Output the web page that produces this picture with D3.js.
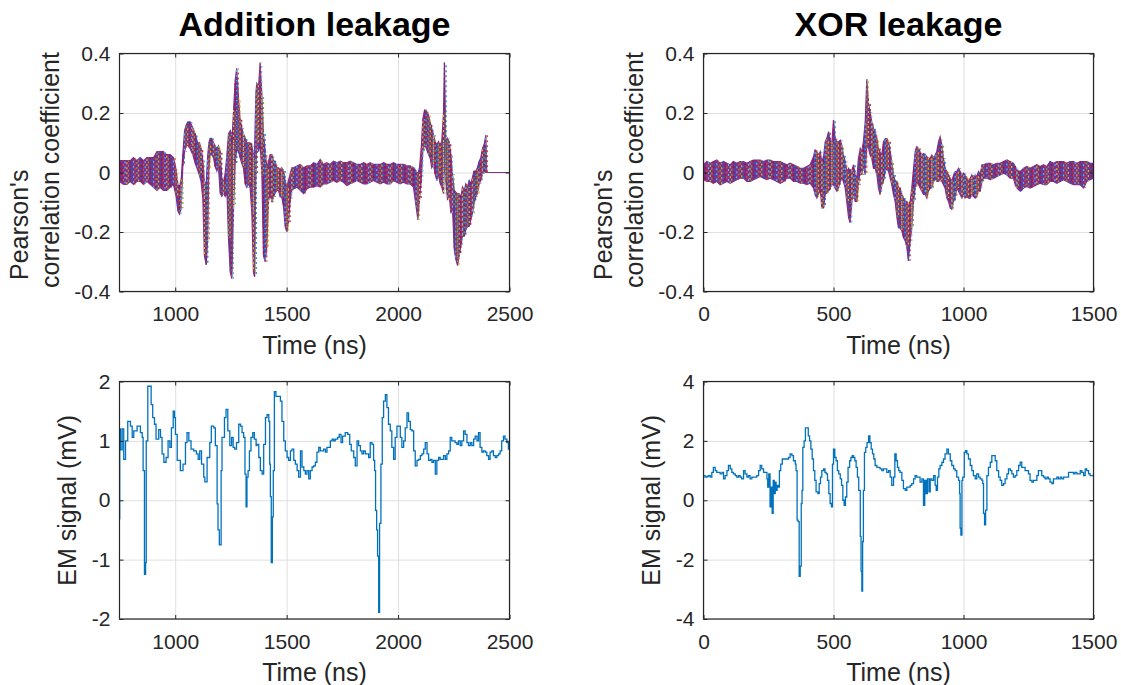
<!DOCTYPE html>
<html>
<head>
<meta charset="utf-8">
<script src="https://cdn.jsdelivr.net/npm/d3@7"></script>
<style>
  body { margin: 0; background: #fff; }
  svg { display: block; }
  text { font-family: "Liberation Sans", Arial, Helvetica, sans-serif; fill: #262626; }
</style>
</head>
<body>
<svg id="fig" width="1121" height="685"></svg>
<script>
// correlation traces: [time ns, upper envelope, lower envelope] of all key guesses
const corrAdd = [
  [750,0.04,-0.03],[768,0.04,-0.04],[783,0.04,-0.04],[798,0.04,-0.03],[813,0.05,-0.04],[828,0.04,-0.03],
  [843,0.05,-0.03],[858,0.04,-0.04],[873,0.05,-0.03],[888,0.05,-0.04],[903,0.05,-0.05],[918,0.07,-0.06],
  [932,0.07,-0.05],[947,0.07,-0.06],[962,0.06,-0.06],[977,0.06,-0.05],[992,0.05,-0.04],[1004,0.01,-0.08],
  [1012,-0.04,-0.13],[1019,-0.05,-0.14],[1027,-0.02,-0.12],[1034,0.06,0.02],[1042,0.14,0.07],[1049,0.16,0.09],
  [1057,0.17,0.09],[1067,0.17,0.08],[1079,0.15,0.06],[1090,0.13,0.03],[1100,0.10,0.01],[1109,0.10,-0.01],
  [1116,0.08,-0.03],[1124,0.04,-0.09],[1131,-0.03,-0.28],[1139,-0.04,-0.31],[1145,0.05,-0.23],[1151,0.10,0.01],
  [1157,0.115,0.06],[1164,0.115,0.06],[1172,0.10,0.05],[1179,0.09,0.02],[1187,0.08,0.005],[1194,0.09,0.02],
  [1202,0.07,-0.07],[1209,-0.02,-0.08],[1217,-0.03,-0.07],[1224,-0.005,-0.08],[1232,0.06,-0.06],[1239,0.13,-0.22],
  [1247,0.14,-0.335],[1254,0.10,-0.357],[1262,0.21,-0.115],[1269,0.31,0.03],[1276,0.35,0.08],[1284,0.25,0.07],
  [1291,0.18,0.05],[1299,0.15,0.03],[1306,0.13,0.016],[1314,0.115,-0.038],[1321,0.10,-0.05],[1329,0.10,-0.038],
  [1336,0.10,-0.05],[1344,0.09,-0.137],[1351,0.05,-0.335],[1356,0.07,-0.35],[1362,0.27,-0.005],[1366,0.30,0.10],
  [1374,0.29,0.07],[1381,0.37,0.10],[1389,0.26,-0.01],[1396,0.13,-0.28],[1404,0.07,-0.30],[1411,0.016,-0.25],
  [1419,0.038,-0.093],[1426,0.06,-0.07],[1434,0.06,-0.10],[1441,0.038,-0.082],[1448,0.038,-0.07],[1456,0.016,-0.06],
  [1463,0.016,-0.06],[1471,0.005,-0.082],[1478,0.016,-0.082],[1486,0.005,-0.115],[1493,-0.027,-0.18],[1501,-0.049,-0.20],
  [1508,-0.027,-0.17],[1516,-0.005,-0.093],[1523,0.016,-0.06],[1531,0.016,-0.055],[1546,0.022,-0.049],[1561,0.027,-0.06],
  [1576,0.016,-0.071],[1591,0.022,-0.055],[1606,0.022,-0.049],[1621,0.033,-0.049],[1636,0.027,-0.044],[1651,0.044,-0.049],
  [1665,0.027,-0.038],[1680,0.033,-0.038],[1695,0.027,-0.033],[1710,0.038,-0.027],[1725,0.033,-0.033],[1740,0.038,-0.027],
  [1755,0.033,-0.033],[1770,0.033,-0.044],[1785,0.038,-0.038],[1800,0.033,-0.033],[1815,0.027,-0.027],[1830,0.027,-0.033],
  [1845,0.033,-0.038],[1860,0.027,-0.038],[1875,0.033,-0.033],[1890,0.027,-0.027],[1905,0.027,-0.033],[1920,0.027,-0.038],
  [1935,0.033,-0.033],[1950,0.027,-0.038],[1965,0.027,-0.038],[1979,0.033,-0.027],[1994,0.027,-0.033],[2009,0.027,-0.038],
  [2024,0.027,-0.033],[2039,0.022,-0.038],[2054,0.022,-0.038],[2069,0.016,-0.049],[2081,0.005,-0.115],[2089,-0.005,-0.159],
  [2096,0.016,-0.093],[2104,0.082,-0.027],[2111,0.18,0.071],[2119,0.21,0.093],[2126,0.209,0.082],[2137,0.192,0.06],
  [2144,0.17,0.049],[2151,0.148,0.016],[2159,0.126,0.027],[2166,0.104,-0.005],[2174,0.093,-0.027],[2181,0.104,-0.005],
  [2189,0.093,-0.038],[2196,0.104,-0.049],[2204,0.20,-0.071],[2208,0.37,0.05],[2214,0.104,-0.027],[2222,0.115,-0.093],
  [2229,0.104,-0.071],[2237,0.06,-0.137],[2244,-0.005,-0.115],[2252,-0.06,-0.258],[2259,-0.066,-0.291],[2267,-0.071,-0.313],
  [2274,-0.071,-0.28],[2282,-0.082,-0.247],[2289,-0.049,-0.214],[2297,-0.06,-0.214],[2304,-0.038,-0.192],[2312,-0.049,-0.181],
  [2319,-0.027,-0.181],[2326,-0.038,-0.159],[2334,-0.016,-0.137],[2341,0.005,-0.104],[2349,0.005,-0.082],[2356,0.016,-0.071],
  [2364,0.038,-0.038],[2371,0.049,-0.027],[2379,0.082,-0.005],[2386,0.093,0.005],[2394,0.126,0.0],[2398,0,0],[2500,0,0]
];

const corrXor = [
  [0,0.026,-0.024],[13,0.037,-0.03],[26,0.031,-0.03],[38,0.037,-0.036],[51,0.042,-0.03],[64,0.031,-0.041],
  [77,0.037,-0.036],[90,0.031,-0.03],[103,0.026,-0.036],[115,0.037,-0.03],[128,0.031,-0.024],[141,0.037,-0.019],
  [154,0.037,-0.019],[167,0.031,-0.03],[179,0.037,-0.03],[192,0.042,-0.024],[205,0.042,-0.019],[218,0.042,-0.013],
  [231,0.037,-0.019],[244,0.042,-0.024],[256,0.042,-0.019],[269,0.037,-0.024],[282,0.037,-0.03],[295,0.037,-0.036],
  [308,0.031,-0.03],[321,0.026,-0.019],[333,0.031,-0.019],[346,0.026,-0.03],[359,0.02,-0.03],[372,0.014,-0.036],
  [385,0.014,-0.036],[397,0.02,-0.041],[410,0.026,-0.036],[423,0.053,-0.052],[429,0.076,-0.074],[436,0.07,-0.086],
  [442,0.059,-0.074],[449,0.07,-0.052],[455,0.037,-0.119],[462,0.053,-0.119],[468,0.103,-0.074],[474,0.114,-0.069],
  [481,0.137,-0.063],[487,0.109,-0.052],[494,0.103,-0.041],[500,0.176,-0.041],[506,0.114,-0.052],[513,0.103,-0.063],
  [519,0.103,-0.052],[526,0.109,-0.03],[532,0.092,-0.019],[538,0.059,-0.03],[545,0.037,-0.052],[551,0.003,-0.097],
  [558,0.014,-0.152],[564,0.003,-0.169],[571,0.009,-0.097],[577,0.026,-0.063],[583,-0.008,-0.097],[590,-0.019,-0.097],
  [596,0.048,-0.041],[603,0.081,0.014],[609,0.07,-0.008],[615,0.103,0.026],[622,0.17,-0.008],[628,0.314,0.092],
  [635,0.231,0.081],[641,0.203,0.059],[647,0.17,0.048],[654,0.148,0.014],[660,0.137,0.014],[667,0.114,-0.008],
  [673,0.081,-0.052],[679,0.07,-0.074],[686,0.059,-0.041],[692,0.103,-0.03],[699,0.114,0.003],[705,0.114,0.014],
  [712,0.103,0.003],[718,0.07,-0.019],[724,0.037,-0.041],[731,-0.008,-0.074],[737,-0.03,-0.097],[744,-0.03,-0.152],
  [750,-0.052,-0.186],[756,-0.052,-0.186],[763,-0.074,-0.197],[769,-0.086,-0.219],[776,-0.097,-0.23],[782,-0.097,-0.252],
  [788,-0.108,-0.297],[795,-0.097,-0.23],[801,-0.052,-0.186],[808,0.014,-0.097],[814,0.07,-0.052],[820,0.087,-0.03],
  [827,0.081,-0.041],[833,0.07,-0.052],[840,0.059,-0.063],[846,0.064,-0.074],[853,0.059,-0.074],[859,0.053,-0.086],
  [865,0.048,-0.063],[872,0.048,-0.052],[878,0.059,-0.052],[885,0.048,-0.03],[891,0.059,-0.019],[897,0.07,-0.03],
  [904,0.103,-0.03],[910,0.12,-0.019],[917,0.092,-0.03],[923,0.048,-0.041],[929,0.014,-0.052],[936,0.003,-0.086],
  [942,-0.008,-0.097],[949,-0.019,-0.119],[955,-0.03,-0.124],[962,-0.008,-0.097],[968,0.003,-0.086],[974,0.003,-0.052],
  [981,0.014,-0.063],[987,0.003,-0.074],[994,-0.008,-0.086],[1000,-0.002,-0.074],[1006,-0.008,-0.086],[1013,-0.019,-0.08],
  [1019,-0.03,-0.086],[1026,-0.019,-0.086],[1032,-0.008,-0.074],[1038,-0.019,-0.08],[1045,-0.008,-0.086],[1051,-0.013,-0.08],
  [1058,0.003,-0.063],[1064,-0.008,-0.063],[1071,0.026,-0.03],[1077,0.026,-0.019],[1090,0.031,-0.019],[1103,0.031,-0.024],
  [1115,0.026,-0.019],[1128,0.031,-0.013],[1141,0.031,-0.008],[1154,0.037,-0.002],[1167,0.042,-0.008],[1179,0.037,-0.019],
  [1192,0.031,-0.019],[1199,0.02,-0.041],[1205,0.009,-0.052],[1218,0.003,-0.063],[1231,0.014,-0.052],[1244,0.02,-0.047],
  [1256,0.014,-0.052],[1269,0.02,-0.047],[1282,0.026,-0.041],[1295,0.02,-0.036],[1308,0.026,-0.041],[1320,0.02,-0.041],
  [1333,0.037,-0.03],[1346,0.031,-0.03],[1359,0.037,-0.036],[1372,0.037,-0.03],[1385,0.037,-0.024],[1397,0.031,-0.03],
  [1410,0.037,-0.036],[1423,0.037,-0.041],[1436,0.031,-0.041],[1449,0.037,-0.041],[1462,0.037,-0.052],[1474,0.037,-0.03],
  [1487,0.031,-0.024],[1500,0.031,-0.019]
];

// EM signal: [time ns, mV]
const emAdd = [
  [750,-0.31],[751,1.2],[755,0.85],[762,1.2],[769,0.69],[777,1.0],[784,1.0],[787,1.33],[799,1.25],[807,1.06],
  [814,1.17],[829,1.25],[844,1.14],[852,1.06],[856,0.5],[862,-1.25],[867,-1.05],[870,1.0],[877,1.92],[889,1.92],
  [892,1.61],[899,1.39],[907,1.28],[914,1.03],[926,1.19],[934,1.06],[941,0.78],[949,0.64],[959,0.72],[968,1.0],
  [976,0.89],[983,1.22],[991,1.5],[997,1.39],[1001,1.11],[1009,0.67],[1023,0.5],[1035,0.61],[1046,0.97],[1053,1.14],
  [1061,1.0],[1071,0.86],[1083,0.83],[1095,0.78],[1103,0.69],[1110,0.83],[1118,0.61],[1128,0.39],[1133,0.31],[1143,0.72],
  [1155,0.97],[1162,1.25],[1173,1.22],[1180,0.92],[1188,-0.06],[1192,-0.5],[1198,-0.75],[1206,0.5],[1210,1.06],[1221,1.39],
  [1228,1.53],[1236,1.17],[1245,0.92],[1253,1.06],[1260,0.89],[1267,0.86],[1275,0.97],[1285,1.28],[1293,1.25],[1300,1.14],
  [1307,1.06],[1313,0.44],[1318,-0.11],[1322,0.39],[1327,0.5],[1333,0.83],[1340,1.06],[1348,1.14],[1355,1.03],[1363,0.92],
  [1367,0.94],[1375,0.72],[1382,0.5],[1390,0.44],[1397,0.94],[1405,1.39],[1412,1.44],[1420,1.33],[1424,0.61],[1427,0.06],
  [1431,-1.05],[1436,-0.28],[1440,0.5],[1445,1.83],[1452,1.75],[1464,1.75],[1472,1.67],[1479,1.33],[1487,1.0],[1494,0.83],
  [1502,0.72],[1509,0.67],[1517,0.83],[1524,0.86],[1532,0.67],[1539,0.61],[1547,0.5],[1554,0.39],[1562,0.83],[1569,0.56],
  [1577,0.5],[1584,0.44],[1591,0.5],[1599,0.36],[1606,0.5],[1614,0.56],[1621,0.58],[1629,0.64],[1636,0.81],[1644,0.89],
  [1651,0.83],[1659,0.83],[1666,0.86],[1674,0.81],[1681,0.89],[1689,0.89],[1696,1.0],[1704,1.03],[1711,1.0],[1718,1.03],
  [1729,1.06],[1736,1.11],[1744,0.97],[1751,1.08],[1763,1.14],[1774,1.11],[1783,0.94],[1790,0.83],[1801,0.72],[1808,0.58],
  [1816,1.0],[1823,0.92],[1831,0.83],[1838,0.78],[1845,0.83],[1853,0.78],[1860,0.78],[1868,0.72],[1875,0.97],[1883,0.94],
  [1890,0.67],[1895,0.5],[1899,-0.17],[1904,-0.5],[1908,-0.94],[1913,-1.89],[1917,-0.39],[1923,0.61],[1929,1.39],[1935,1.67],
  [1943,1.78],[1950,1.56],[1957,1.28],[1965,1.17],[1972,0.89],[1980,0.69],[1987,1.06],[1995,1.25],[2002,1.25],[2010,1.06],
  [2017,0.89],[2025,1.0],[2032,1.22],[2040,1.47],[2047,1.33],[2055,1.19],[2062,1.17],[2070,0.83],[2077,0.58],[2085,0.67],
  [2092,0.69],[2100,0.75],[2107,0.78],[2115,0.86],[2122,0.97],[2130,0.78],[2137,0.67],[2145,0.69],[2152,0.64],[2159,0.67],
  [2167,0.44],[2174,0.67],[2182,0.72],[2189,0.69],[2197,0.69],[2204,0.75],[2212,0.69],[2219,0.78],[2227,0.83],[2234,1.06],
  [2241,1.0],[2249,1.0],[2256,0.97],[2264,0.94],[2271,1.0],[2279,0.92],[2286,1.0],[2294,1.17],[2301,1.11],[2309,0.97],
  [2316,0.92],[2324,0.97],[2331,0.92],[2339,1.03],[2346,1.08],[2354,1.0],[2361,1.14],[2368,0.89],[2376,0.81],[2383,0.83],
  [2391,0.81],[2398,0.75],[2406,0.69],[2413,0.81],[2421,0.83],[2428,0.75],[2436,0.72],[2443,0.75],[2451,0.78],[2458,0.83],
  [2465,1.0],[2473,1.08],[2480,1.03],[2488,0.97],[2495,0.86],[2500,0.9]
];

const emXor = [
  [0,0.83],[6,0.78],[13,0.80],[19,0.83],[26,0.78],[32,0.94],[38,1.11],[45,1.0],[51,0.94],[58,0.94],
  [64,0.89],[71,0.94],[77,0.72],[83,0.83],[90,1.0],[96,1.17],[103,1.06],[109,0.94],[115,0.89],[122,0.83],
  [128,0.78],[135,0.83],[141,0.78],[147,0.72],[154,1.0],[160,0.89],[167,0.78],[173,0.83],[179,0.72],[186,0.78],
  [192,0.78],[199,0.78],[205,0.83],[212,1.0],[218,1.17],[224,1.06],[231,0.94],[237,0.94],[244,0.72],[247,0.44],
  [251,0.89],[256,-0.22],[260,0.44],[264,-0.44],[268,0.67],[272,0.22],[276,0.61],[279,0.33],[283,0.5],[287,0.44],
  [292,1.0],[297,1.22],[303,1.39],[308,1.39],[314,1.39],[321,1.39],[327,1.44],[333,1.56],[340,1.5],[346,1.33],
  [353,1.22],[356,1.0],[360,-0.67],[364,-0.72],[368,-2.56],[372,-2.22],[376,-0.11],[379,0.33],[382,1.78],[387,2.0],
  [392,2.44],[397,2.44],[403,2.17],[408,2.0],[413,1.72],[418,1.39],[423,1.0],[428,0.67],[433,0.28],[440,0.22],
  [445,0.56],[450,0.78],[455,1.0],[462,1.06],[467,0.94],[472,0.89],[477,0.67],[482,0.22],[487,-0.11],[492,-0.22],
  [496,1.22],[500,1.72],[505,1.44],[510,1.33],[515,1.0],[520,0.89],[526,0.72],[531,0.5],[536,0.0],[541,-0.17],
  [546,0.11],[551,0.61],[556,1.11],[562,1.33],[567,1.44],[572,1.5],[577,1.44],[582,1.33],[587,1.11],[592,0.78],
  [597,0.33],[603,-1.22],[606,-2.39],[609,-3.06],[612,-1.39],[615,0.33],[619,1.61],[624,1.78],[629,1.94],[635,2.17],
  [640,1.94],[645,1.72],[650,1.56],[655,1.39],[660,1.17],[667,1.11],[673,1.11],[679,1.06],[686,1.0],[692,1.06],
  [699,1.06],[705,0.94],[712,1.0],[718,0.78],[724,0.5],[731,0.78],[736,1.56],[741,1.33],[746,1.11],[751,1.0],
  [756,0.94],[763,0.67],[769,0.39],[776,0.33],[782,0.44],[788,0.44],[795,0.5],[801,0.56],[808,0.72],[814,0.83],
  [820,0.78],[827,0.78],[833,0.61],[840,0.72],[846,-0.17],[851,0.67],[856,0.22],[861,0.72],[867,0.28],[872,0.72],
  [878,0.67],[885,0.83],[891,0.5],[895,0.33],[900,0.78],[905,1.06],[910,1.17],[917,1.28],[923,1.39],[929,1.56],
  [936,1.72],[942,1.56],[949,1.33],[955,1.17],[962,1.06],[968,1.0],[974,0.78],[981,0.67],[985,0.22],[987,-0.94],
  [990,-1.17],[994,0.67],[997,0.78],[1003,1.61],[1008,1.67],[1013,1.56],[1019,1.39],[1026,1.17],[1032,1.0],[1038,0.83],
  [1045,0.72],[1051,0.89],[1058,0.78],[1064,0.72],[1071,0.67],[1074,0.56],[1077,-0.44],[1081,-0.83],[1085,-0.33],[1090,0.83],
  [1096,1.11],[1103,1.28],[1109,1.5],[1115,1.5],[1122,1.33],[1128,1.0],[1135,0.78],[1141,0.67],[1147,0.5],[1154,0.56],
  [1160,0.72],[1167,0.89],[1173,1.06],[1180,1.0],[1186,0.89],[1192,0.78],[1199,0.83],[1205,1.0],[1212,1.17],[1218,1.28],
  [1224,1.11],[1231,1.11],[1237,1.0],[1244,1.0],[1250,0.89],[1256,0.67],[1263,0.61],[1269,0.67],[1276,0.67],[1282,0.83],
  [1288,1.0],[1295,1.0],[1301,0.83],[1308,0.78],[1314,0.72],[1321,0.78],[1327,0.72],[1333,0.61],[1340,0.56],[1346,0.72],
  [1353,0.72],[1359,0.78],[1365,0.72],[1372,0.78],[1378,0.72],[1385,0.78],[1391,0.78],[1397,0.78],[1404,0.94],[1410,0.94],
  [1417,0.94],[1423,0.89],[1429,0.94],[1436,0.89],[1442,0.89],[1449,1.0],[1455,0.94],[1462,0.83],[1468,1.06],[1474,1.0],
  [1481,0.89],[1487,0.83],[1494,0.83],[1500,0.89]
];

const titles = ["Addition leakage", "XOR leakage"];
const ticksAddX = [1000, 1500, 2000, 2500];
const ticksXorX = [0, 500, 1000, 1500];
const ticksCorrY = [-0.4, -0.2, 0, 0.2, 0.4];
const ticksEmAddY = [-2, -1, 0, 1, 2];
const ticksEmXorY = [-4, -2, 0, 2, 4];

// matlab default line colours
const purple = "#7E2F8E";
const traceColors = ["#0072BD", "#D95319", "#EDB120", "#A2142F", "#4DBEEE", "#77AC30"];
const emColor = "#0072BD";

const svg = d3.select("#fig");
const fmt = d => String(+d.toFixed(1));

function makeAxes(cfg, id) {
  const x = d3.scaleLinear().domain(cfg.xd).range([cfg.l, cfg.r]);
  const y = d3.scaleLinear().domain(cfg.yd).range([cfg.b, cfg.t]);
  const g = svg.append("g");

  // grid
  g.append("g").attr("transform", `translate(0,${cfg.b})`)
    .call(d3.axisBottom(x).tickValues(cfg.xt).tickSize(-(cfg.b - cfg.t)).tickFormat(""))
    .call(a => { a.select(".domain").remove(); a.selectAll("line").attr("stroke", "#dfdfdf"); });
  g.append("g").attr("transform", `translate(${cfg.l},0)`)
    .call(d3.axisLeft(y).tickValues(cfg.yt).tickSize(-(cfg.r - cfg.l)).tickFormat(""))
    .call(a => { a.select(".domain").remove(); a.selectAll("line").attr("stroke", "#dfdfdf"); });

  svg.append("clipPath").attr("id", id)
    .append("rect").attr("x", cfg.l).attr("y", cfg.t).attr("width", cfg.r - cfg.l).attr("height", cfg.b - cfg.t);
  const plot = g.append("g").attr("clip-path", `url(#${id})`);

  // box + inward ticks + labels, drawn after data
  const deco = () => {
    const styleAx = a => {
      a.select(".domain").remove();
      a.selectAll("line").attr("stroke", "#262626");
      a.selectAll("text").style("font-size", "21px").attr("fill", "#262626");
    };
    g.append("g").attr("transform", `translate(0,${cfg.b})`)
      .call(d3.axisBottom(x).tickValues(cfg.xt).tickSizeInner(-4).tickSizeOuter(0).tickPadding(15).tickFormat(d3.format("d")))
      .call(styleAx);
    g.append("g").attr("transform", `translate(0,${cfg.t})`)
      .call(d3.axisTop(x).tickValues(cfg.xt).tickSizeInner(-4).tickSizeOuter(0).tickFormat(""))
      .call(styleAx);
    g.append("g").attr("transform", `translate(${cfg.l},0)`)
      .call(d3.axisLeft(y).tickValues(cfg.yt).tickSizeInner(-4).tickSizeOuter(0).tickPadding(9).tickFormat(fmt))
      .call(styleAx);
    g.append("g").attr("transform", `translate(${cfg.r},0)`)
      .call(d3.axisRight(y).tickValues(cfg.yt).tickSizeInner(-4).tickSizeOuter(0).tickFormat(""))
      .call(styleAx);
    g.append("rect").attr("x", cfg.l).attr("y", cfg.t)
      .attr("width", cfg.r - cfg.l).attr("height", cfg.b - cfg.t)
      .attr("fill", "none").attr("stroke", "#262626").attr("stroke-width", 1.2);
    g.append("text").attr("x", (cfg.l + cfg.r) / 2).attr("y", cfg.b + 62)
      .attr("text-anchor", "middle").style("font-size", "25px").text("Time (ns)");
  };
  return { x, y, g, plot, deco };
}

function drawCorr(cfg, data, id, title) {
  const ax = makeAxes(cfg, id);
  const { x, y, plot } = ax;
  plot.append("path").datum(data)
    .attr("d", d3.area().x(d => x(d[0])).y0(d => y(d[2])).y1(d => y(d[1])))
    .attr("fill", purple).attr("stroke", purple).attr("stroke-width", 1.2);
  // speckle of the other key guesses: two dashed colour passes per sample
  [0, 1].forEach(k => {
    plot.append("g").selectAll("line").data(data).join("line")
      .attr("x1", d => x(d[0]) + k * 1.6).attr("x2", d => x(d[0]) + k * 1.6)
      .attr("y1", d => y(d[1])).attr("y2", d => y(d[2]))
      .attr("stroke", (d, i) => traceColors[(i + k * 3) % traceColors.length])
      .attr("stroke-width", 1.2)
      .attr("stroke-dasharray", "2,3")
      .attr("stroke-dashoffset", (d, i) => (i * 1.7 + k * 2.5) % 5);
  });
  ax.deco();
  ax.g.append("text").attr("x", (cfg.l + cfg.r) / 2).attr("y", cfg.t - 18)
    .attr("text-anchor", "middle").style("font-size", "34px").style("font-weight", "bold")
    .style("fill", "#000").text(title);
  ax.g.append("text").attr("transform", `translate(${cfg.l - 92},280) rotate(-90)`)
    .attr("text-anchor", "start").style("font-size", "25px").text("Pearson's");
  ax.g.append("text").attr("transform", `translate(${cfg.l - 61},170) rotate(-90)`)
    .attr("text-anchor", "middle").style("font-size", "25px").text("correlation coefficient");
}

function drawEm(cfg, data, id) {
  const ax = makeAxes(cfg, id);
  const { x, y, plot } = ax;
  plot.append("path").datum(data)
    .attr("d", d3.line().curve(d3.curveStepAfter).x(d => x(d[0])).y(d => y(d[1])))
    .attr("fill", "none").attr("stroke", emColor).attr("stroke-width", 1.3);
  ax.deco();
  ax.g.append("text").attr("transform", `translate(${cfg.l - 44},${(cfg.t + cfg.b) / 2}) rotate(-90)`)
    .attr("text-anchor", "middle").style("font-size", "25px").text("EM signal (mV)");
}

drawCorr({ l: 119.5, r: 509.5, t: 53.5, b: 291.5, xd: [750, 2500], yd: [-0.4, 0.4], xt: ticksAddX, yt: ticksCorrY },
  corrAdd, "clipA", titles[0]);
drawCorr({ l: 703.5, r: 1093.5, t: 53.5, b: 291.5, xd: [0, 1500], yd: [-0.4, 0.4], xt: ticksXorX, yt: ticksCorrY },
  corrXor, "clipB", titles[1]);
drawEm({ l: 119.5, r: 509.5, t: 381.5, b: 619, xd: [750, 2500], yd: [-2, 2], xt: ticksAddX, yt: ticksEmAddY },
  emAdd, "clipC");
drawEm({ l: 703.5, r: 1093.5, t: 381.5, b: 619, xd: [0, 1500], yd: [-4, 4], xt: ticksXorX, yt: ticksEmXorY },
  emXor, "clipD");
</script>
</body>
</html>
